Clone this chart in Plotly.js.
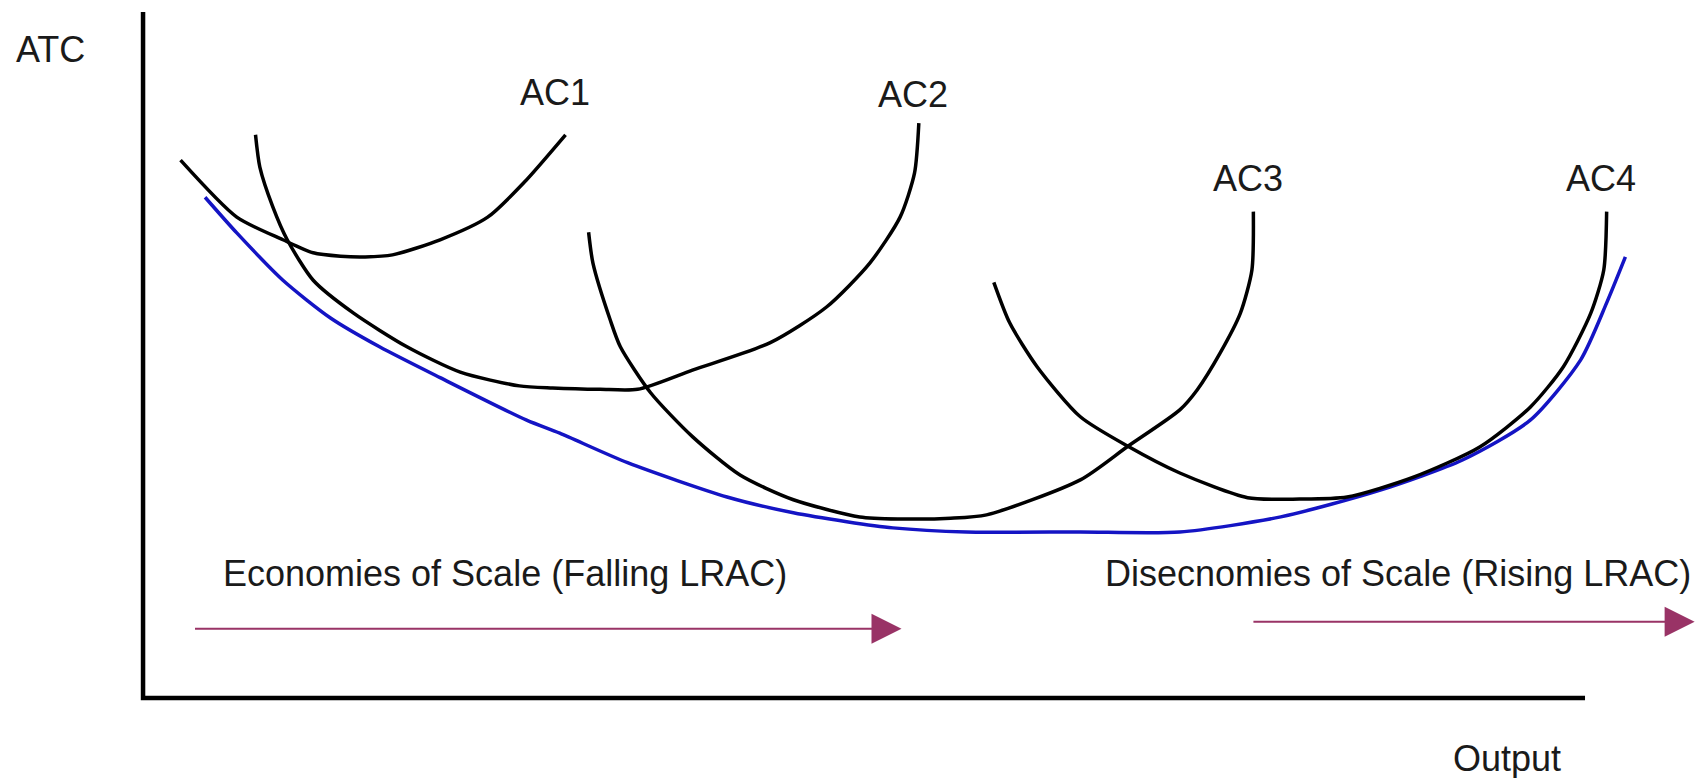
<!DOCTYPE html>
<html>
<head>
<meta charset="utf-8">
<script src="https://cdn.plot.ly/plotly-3.0.1.min.js"></script>
<style>
  html, body { margin: 0; padding: 0; background: #fff; }
  #chart { width: 1706px; height: 778px; }
</style>
</head>
<body>
<div id="chart"></div>
<script>
// output (0-100 along the drawn x axis) and average cost (0-100 up the y axis)
var ac1Q = [2.6, 6.5, 9.7, 11.8, 13.7, 15.4, 17.3, 20.6, 23.9, 26.4, 29.3];
var ac1C = [78.4, 70.1, 66.8, 64.9, 64.4, 64.3, 64.6, 66.8, 70.1, 75.1, 82.1];

var ac2Q = [7.8, 8.1, 9.0, 10.0, 11.8, 14.6, 18.3, 22.0, 26.1, 28.4, 31.7, 34.3, 38.1, 43.5, 47.4, 50.4, 52.5, 53.5, 53.8];
var ac2C = [82.1, 77.4, 71.6, 66.8, 60.9, 56.1, 51.2, 47.5, 45.5, 45.2, 45.0, 45.0, 47.8, 51.8, 57.0, 63.4, 70.1, 76.5, 83.8];

var ac3Q = [30.9, 31.2, 32.4, 33.1, 35.2, 38.1, 41.4, 45.1, 49.7, 52.5, 56.0, 58.5, 65.0, 68.3, 71.9, 73.1, 74.7, 76.1, 76.9, 77.0];
var ac3C = [67.9, 63.4, 55.1, 51.2, 44.5, 38.1, 32.5, 28.9, 26.4, 26.1, 26.2, 26.7, 31.8, 36.7, 42.0, 44.9, 50.3, 56.1, 62.4, 70.9];

var ac4Q = [59.0, 60.1, 62.0, 65.0, 68.3, 71.9, 76.6, 80.2, 83.5, 88.1, 92.7, 96.2, 98.5, 100.4, 101.3, 101.5];
var ac4C = [60.6, 54.7, 48.3, 41.0, 36.7, 32.8, 29.2, 29.0, 29.3, 32.2, 36.6, 42.4, 48.3, 56.1, 62.4, 70.9];

var lracQ = [4.3, 6.5, 9.7, 13.0, 16.4, 20.6, 26.6, 28.9, 33.6, 40.5, 45.1, 48.8, 52.0, 57.1, 65.0, 71.9, 78.9, 85.8, 91.5, 96.2, 99.7, 101.5, 102.8];
var lracC = [73.0, 67.8, 60.9, 55.4, 51.2, 46.7, 40.5, 38.6, 34.3, 29.3, 27.0, 25.7, 24.8, 24.2, 24.2, 24.2, 26.4, 30.3, 34.7, 40.5, 49.3, 57.6, 64.3];

var curveNames = ['AC1', 'AC2', 'AC3', 'AC4'];
var axisQ = [0, 0, 100];
var axisC = [100, 0, 0];

var economies = 'Economies of Scale (Falling LRAC)';
var diseconomies = 'Disecnomies of Scale (Rising LRAC)';
var econRange = [3.5, 52.6];
var diseconRange = [76.9, 107.6];

var font = 'Liberation Sans, Arial, sans-serif';

function curve(q, c, color) {
    return {
        x: q,
        y: c,
        type: 'scatter',
        mode: 'lines',
        line: {color: color, width: 3.5, shape: 'spline', smoothing: 0.7},
        hoverinfo: 'skip'
    };
}

var axesLine = {
    x: axisQ,
    y: axisC,
    type: 'scatter',
    mode: 'lines',
    line: {color: '#000', width: 4.5},
    hoverinfo: 'skip'
};

var data = [
    axesLine,
    curve(lracQ, lracC, '#1414c4'),
    curve(ac1Q, ac1C, '#000'),
    curve(ac2Q, ac2C, '#000'),
    curve(ac3Q, ac3C, '#000'),
    curve(ac4Q, ac4C, '#000')
];

function label(text, x, y, anchor) {
    return {
        text: text, x: x, y: y, xref: 'x', yref: 'y',
        showarrow: false, xanchor: anchor || 'center', yanchor: 'middle',
        font: {family: font, size: 36, color: '#1a1a1a'}
    };
}

function arrow(range, y) {
    return {
        text: '', x: range[1], y: y, ax: range[0], ay: y,
        xref: 'x', yref: 'y', axref: 'x', ayref: 'y',
        showarrow: true, arrowhead: 2, arrowsize: 3, arrowwidth: 2,
        arrowcolor: '#993366'
    };
}

var annotations = [
    label('ATC', -6.4, 94.5),
    label('Output', 94.6, -8.8),
    label(curveNames[0], 28.6, 88.2),
    label(curveNames[1], 53.4, 88.0),
    label(curveNames[2], 76.6, 75.8),
    label(curveNames[3], 101.1, 75.8),
    label(economies, 5.4, 18.2, 'left'),
    label(diseconomies, 66.6, 18.2, 'left'),
    arrow(econRange, 10.1),
    arrow(diseconRange, 11.1)
];

var layout = {
    width: 1706,
    height: 778,
    margin: {l: 0, r: 0, t: 0, b: 0},
    paper_bgcolor: '#fff',
    plot_bgcolor: '#fff',
    showlegend: false,
    xaxis: {range: [-9.92, 108.39], visible: false, fixedrange: true},
    yaxis: {range: [-11.66, 101.75], visible: false, fixedrange: true},
    annotations: annotations
};

Plotly.newPlot('chart', data, layout, {displayModeBar: false, staticPlot: true});
</script>
</body>
</html>
